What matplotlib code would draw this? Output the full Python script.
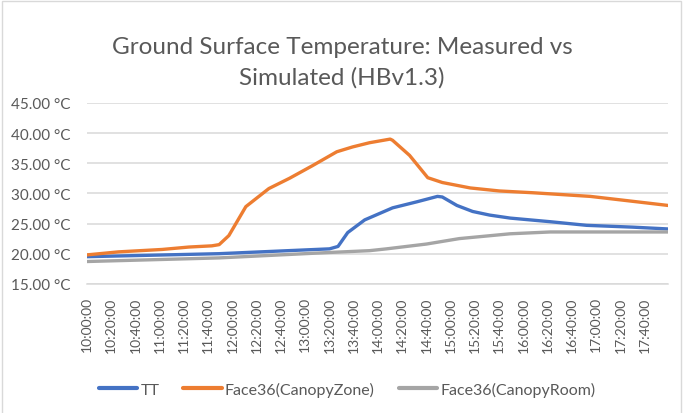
import matplotlib
matplotlib.use("Agg")
from matplotlib import pyplot as plt, patches as mpatches
import numpy as np

# minutes after 10:00 and temperatures (°C)
tt_minutes = [0, 109, 200, 207, 215, 229, 252, 272, 289, 293, 305, 318, 332, 349, 382, 412, 450, 479]
tt_values = [19.5, 20.0, 20.8, 21.2, 23.5, 25.6, 27.6, 28.6, 29.5, 29.4, 28.0, 27.0, 26.4, 25.9, 25.3, 24.7, 24.4, 24.1]

zone_minutes = [0, 26, 62, 84, 103, 109, 117, 131, 150, 167, 186, 206, 219, 233, 250, 252,
                266, 281, 293, 316, 340, 368, 415, 445, 479]
zone_values = [19.8, 20.3, 20.7, 21.1, 21.3, 21.5, 23.0, 27.8, 30.8, 32.5, 34.6, 36.9, 37.7, 38.4, 39.0, 38.8,
               36.3, 32.6, 31.8, 30.9, 30.4, 30.1, 29.5, 28.8, 28.0]

room_minutes = [0, 109, 200, 233, 247, 280, 307, 349, 382, 479]
room_values = [18.7, 19.3, 20.2, 20.5, 20.8, 21.6, 22.5, 23.3, 23.6, 23.6]

tick_minutes = list(range(0, 461, 20))
tick_labels = ["%02d:%02d:00" % (10 + m // 60, m % 60) for m in tick_minutes]
y_ticks = [15, 20, 25, 30, 35, 40, 45]

series_names = ["TT", "Face36(CanopyZone)", "Face36(CanopyRoom)"]
series_colors = ["#4472C4", "#ED7D31", "#A5A5A5"]

text_clr = "#595959"
grid_clr = "#D9D9D9"
plt.rcParams['font.family'] = ['Lato', 'DejaVu Sans']

fig = plt.figure(figsize=(6.9, 4.14), dpi=100)
ax = fig.add_axes([0.126, 0.312, 0.842, 0.437])

for xs, ys, name, clr in zip([tt_minutes, zone_minutes, room_minutes],
                             [tt_values, zone_values, room_values],
                             series_names, series_colors):
    ax.plot(xs, ys, color=clr, lw=2.4, label=name, solid_joinstyle='round', solid_capstyle='round')

ax.set_xlim(0, 479)
ax.set_ylim(15, 45)
ax.set_yticks(y_ticks)
ax.set_yticklabels(["%.2f °C" % v for v in y_ticks], fontsize=11)
ax.set_xticks(tick_minutes)
ax.set_xticklabels(tick_labels, rotation=90, fontsize=10)
ax.tick_params(axis='both', length=0, colors=text_clr)
ax.tick_params(axis='x', pad=9)
ax.tick_params(axis='y', pad=12)
ax.yaxis.grid(True, color=grid_clr, lw=1.1)
ax.set_axisbelow(True)
for side in ['top', 'right', 'left']:
    ax.spines[side].set_visible(False)
ax.spines['bottom'].set_color(grid_clr)
ax.spines['bottom'].set_linewidth(1.1)

fig.text(0.496, 0.848, "Ground Surface Temperature: Measured vs\nSimulated (HBv1.3)",
         ha='center', va='center', fontsize=17.5, color=text_clr, linespacing=1.5)

leg = fig.legend(loc='center', bbox_to_anchor=(0.503, 0.058), ncol=3, frameon=False,
                 fontsize=11.5, handlelength=2.4, handletextpad=0.2, columnspacing=1.5)
for t in leg.get_texts():
    t.set_color(text_clr)
for h in leg.get_lines():
    h.set_linewidth(3)

# light chart-area border like the Excel chart frame
fig.patches.append(mpatches.Rectangle((0.003, -0.01), 0.984, 1.005, transform=fig.transFigure,
                                      fill=False, edgecolor=grid_clr, lw=1))

fig.savefig("out.png", dpi=100)
